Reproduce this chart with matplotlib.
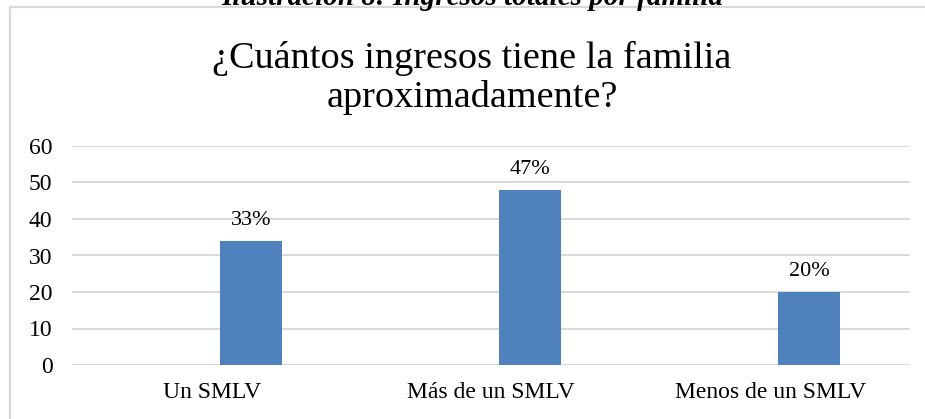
import matplotlib.pyplot as plt
from matplotlib.lines import Line2D

plt.rcParams['font.family'] = ['Liberation Serif', 'DejaVu Serif']

# datos
categorias = ['Un SMLV', 'Más de un SMLV', 'Menos de un SMLV']
valores = [34, 48, 20]
etiquetas = ['33%', '47%', '20%']
ticks_y = [0, 10, 20, 30, 40, 50, 60]

W, H = 925, 419
fig = plt.figure(figsize=(W/100, H/100), dpi=100)
ax = fig.add_axes([72/W, 54/H, 838/W, 219/H])

# borde del gráfico (solo se ven el lado izquierdo y el de arriba)
borde = '#D9D9D9'
fig.lines.append(Line2D([9.5/W, 9.5/W], [0, 1 - 7.5/H], transform=fig.transFigure,
                        color=borde, linewidth=1.6))
fig.lines.append(Line2D([9.5/W, 1], [1 - 7.5/H, 1 - 7.5/H], transform=fig.transFigure,
                        color=borde, linewidth=1.6))

# leyenda de la ilustración, cortada arriba como en el original
fig.text(472/W, 1 - 5/H, 'Ilustración 8: Ingresos totales por familia',
         ha='center', va='baseline', fontsize=21, fontweight='bold', style='italic')

x = range(len(categorias))
barras = ax.bar([i + 0.14 for i in x], valores, width=0.222, color='#4F81BD', zorder=3)

for b, txt in zip(barras, etiquetas):
    ax.annotate(txt, (b.get_x() + b.get_width()/2, b.get_height()),
                xytext=(0, 8), textcoords='offset points',
                ha='center', va='bottom', fontsize=16)

ax.set_xlim(-0.5, 2.5)
ax.set_ylim(0, 60)
ax.set_yticks(ticks_y)
ax.set_xticks(list(x))
ax.set_xticklabels(categorias)
ax.tick_params(axis='y', length=0, pad=14, labelsize=17)
ax.tick_params(axis='x', length=0, pad=12, labelsize=17)
ax.grid(axis='y', color='#D9D9D9', linewidth=1.4, zorder=0)
for s in ax.spines.values():
    s.set_visible(False)

fig.text(472/W, 1 - 78/H, '¿Cuántos ingresos tiene la familia\naproximadamente?',
         ha='center', va='center', fontsize=27.5, linespacing=1.13)

fig.savefig('out.png', dpi=100)
